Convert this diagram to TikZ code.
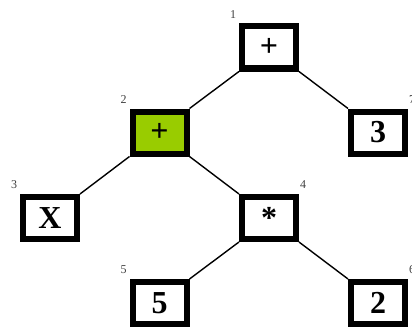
\documentclass[tikz,border=0pt]{standalone}
\usepackage{fontspec}
\setmainfont{Liberation Serif}
\definecolor{leafgreen}{HTML}{99CC00}
\begin{document}
\begin{tikzpicture}[x=1pt,y=-1pt,
  tbox/.style={draw=black,line width=6pt,fill=white,minimum width=54pt,minimum height=42pt,inner sep=0pt,font=\fontsize{32}{32}\selectfont\bfseries},
  idx/.style={font=\fontsize{12}{12}\selectfont,text=black!75,inner sep=0pt},
  edge/.style={line width=1.4pt}]
\useasboundingbox (0,0) rectangle (412,329);
\node[tbox] (n1) at (269,47.5) {+};
\node[tbox,fill=leafgreen] (n2) at (159.5,132.5) {+};
\node[tbox] (n7) at (378,132.5) {3};
\node[tbox] (n3) at (50,218) {X};
\node[tbox] (n4) at (269,218) {*};
\node[tbox] (n5) at (159.5,303) {5};
\node[tbox] (n6) at (378,303) {2};
\draw[edge] (n1.south west) -- (n2.north east);
\draw[edge] (n1.south east) -- (n7.north west);
\draw[edge] (n2.south west) -- (n3.north east);
\draw[edge] (n2.south east) -- (n4.north west);
\draw[edge] (n4.south west) -- (n5.north east);
\draw[edge] (n4.south east) -- (n6.north west);
\node[idx] (l1) at ([shift={(-6,-9)}]n1.north west) {1};
\node[idx] (l2) at ([shift={(-6,-9)}]n2.north west) {2};
\node[idx] (l3) at ([shift={(-6,-9)}]n3.north west) {3};
\node[idx] (l5) at ([shift={(-6,-9)}]n5.north west) {5};
\node[idx] (l4) at ([shift={(4,-9)}]n4.north east) {4};
\node[idx] (l6) at ([shift={(4,-9)}]n6.north east) {6};
\node[idx] (l7) at ([shift={(4,-9)}]n7.north east) {7};
\end{tikzpicture}
\end{document}
